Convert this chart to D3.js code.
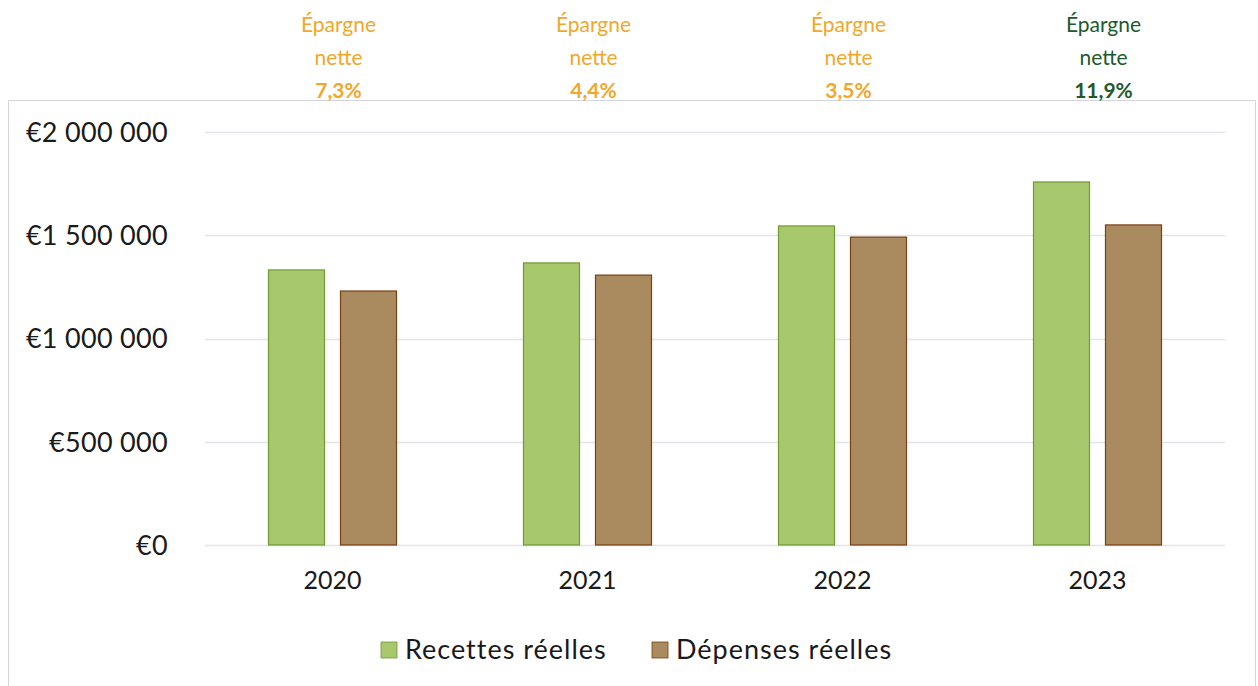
<!DOCTYPE html>
<html>
<head>
<meta charset="utf-8">
<script src="https://cdn.jsdelivr.net/npm/d3@7"></script>
<style>
  html, body { margin: 0; padding: 0; background: #fff; }
  svg { display: block; }
  text { font-family: Lato, "Open Sans", sans-serif; }
</style>
</head>
<body>
<svg id="chart" width="1258" height="686"></svg>
<script>
// Annual real revenue vs. real expenditure, with net savings rate per year
const years = ["2020", "2021", "2022", "2023"];
const recettes = [1332000, 1366000, 1545000, 1758000];
const depenses = [1230000, 1307000, 1491000, 1550000];
const epargneRates = ["7,3%", "4,4%", "3,5%", "11,9%"];
const epargneColors = ["#f2a72a", "#f2a72a", "#f2a72a", "#1d5a2b"];
const yTicks = [0, 500000, 1000000, 1500000, 2000000];
const seriesNames = ["Recettes réelles", "Dépenses réelles"];

const fills = ["#a8c86e", "#a98b5f"];
const strokes = ["#6f9a2e", "#7a3f12"];

const svg = d3.select("#chart");

// outer frame
svg.append("path")
  .attr("d", "M8.5,686 V100.5 H1255.5 V686")
  .attr("fill", "none")
  .attr("stroke", "#d4d4dc")
  .attr("stroke-width", 1);

const plot = { left: 205, right: 1225, top: 132, bottom: 545 };

const x = d3.scaleBand().domain(years).range([plot.left, plot.right]).paddingInner(0).paddingOuter(0);
const y = d3.scaleLinear().domain([0, 2000000]).range([plot.bottom, plot.top]);

// gridlines
svg.append("g")
  .selectAll("line")
  .data(yTicks)
  .join("line")
  .attr("x1", plot.left).attr("x2", plot.right)
  .attr("y1", d => Math.round(y(d)) + 0.5).attr("y2", d => Math.round(y(d)) + 0.5)
  .attr("stroke", "#e4e4ee").attr("stroke-width", 1.5);

// y axis labels (French thousands separator: space)
const yAxis = d3.axisLeft(y).tickValues(yTicks).tickSize(0).tickPadding(0)
  .tickFormat(d => "€" + d3.format(",")(d).replace(/,/g, " "));
const gy = svg.append("g").attr("transform", `translate(168,0)`).call(yAxis);
gy.select(".domain").remove();
gy.selectAll("text").attr("font-size", 27).attr("fill", "#1a1a1a")
  .attr("font-family", "Lato, sans-serif").attr("dy", "0.35em")
  .attr("letter-spacing", "0.3px");

// x axis labels
const xAxis = d3.axisBottom(x).tickSize(0).tickPadding(0);
const gx = svg.append("g").attr("transform", `translate(0,${plot.bottom + 26})`).call(xAxis);
gx.select(".domain").remove();
gx.selectAll("text").attr("font-size", 25).attr("fill", "#1a1a1a")
  .attr("font-family", "Lato, sans-serif").attr("dy", "0.71em");

// bars
const barW = 57, gap = 15;
const series = [recettes, depenses];
series.forEach((vals, si) => {
  svg.append("g").selectAll("rect")
    .data(vals.map((v, i) => ({ v, year: years[i] })))
    .join("rect")
    .attr("x", d => x(d.year) + x.bandwidth() / 2 - barW - gap / 2 + si * (barW + gap) + 0.5)
    .attr("y", d => y(d.v))
    .attr("width", barW - 1)
    .attr("height", d => y(0) - y(d.v))
    .attr("fill", fills[si])
    .attr("stroke", strokes[si])
    .attr("stroke-width", 1.2);
});

// net savings annotations above each year
const ann = svg.append("g");
years.forEach((yr, i) => {
  const cx = x(yr) + x.bandwidth() / 2 + 6;
  const t = ann.append("text")
    .attr("x", cx).attr("text-anchor", "middle")
    .attr("fill", epargneColors[i]).attr("font-size", 21);
  t.append("tspan").attr("x", cx).attr("y", 32).text("Épargne");
  t.append("tspan").attr("x", cx).attr("y", 65).text("nette");
  t.append("tspan").attr("x", cx).attr("y", 98).attr("font-weight", "bold").text(epargneRates[i]);
});

// legend
const legend = svg.append("g");
const legendItems = [
  { name: seriesNames[0], sx: 381 },
  { name: seriesNames[1], sx: 652 }
];
legendItems.forEach((it, i) => {
  legend.append("rect")
    .attr("x", it.sx).attr("y", 642).attr("width", 16).attr("height", 16)
    .attr("fill", fills[i]).attr("stroke", strokes[i]).attr("stroke-width", 0.8);
  legend.append("text")
    .attr("x", it.sx + 24).attr("y", 659)
    .attr("font-size", 27).attr("letter-spacing", "1px").attr("fill", "#1a1a1a")
    .text(it.name);
});
</script>
</body>
</html>
